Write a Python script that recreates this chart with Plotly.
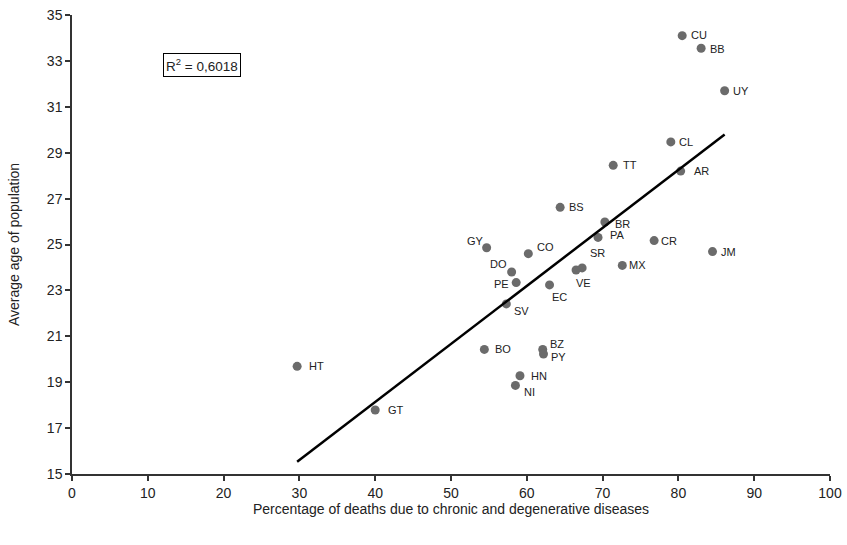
import numpy as np
import plotly.graph_objects as go

countries = ["CU", "BB", "UY", "CL", "TT", "AR", "BS", "BR", "PA", "CR", "JM", "GY", "CO",
             "SR", "VE", "MX", "DO", "PE", "EC", "SV", "BO", "BZ", "PY", "HN", "NI", "HT", "GT"]
pct_chronic = [80.5, 83.0, 86.1, 79.0, 71.4, 80.3, 64.4, 70.3, 69.4, 76.8, 84.5, 54.7, 60.2,
               67.3, 66.5, 72.6, 58.0, 58.6, 63.0, 57.3, 54.4, 62.1, 62.2, 59.1, 58.5, 29.7, 40.0]
avg_age = [34.1, 33.55, 31.7, 29.47, 28.45, 28.2, 26.62, 25.98, 25.31, 25.17, 24.69, 24.86, 24.6,
           23.98, 23.89, 24.09, 23.8, 23.34, 23.24, 22.41, 20.43, 20.43, 20.23, 19.28, 18.86, 19.69, 17.79]
x_ticks = [0, 10, 20, 30, 40, 50, 60, 70, 80, 90, 100]
y_ticks = [15, 17, 19, 21, 23, 25, 27, 29, 31, 33, 35]
r2_label = "R<sup>2</sup> = 0,6018"

# label offsets (pixels) relative to each point
label_shift = {
    "CU": (17, -1), "BB": (16, 1), "UY": (16, 0), "CL": (15, 0), "TT": (17, 0), "AR": (21, 0),
    "BS": (16, 0), "BR": (18, 2), "PA": (19, -2), "CR": (15, 0), "JM": (16, 0), "GY": (-11, -7),
    "CO": (17, -7), "SR": (15, -15), "VE": (7, 13), "MX": (15, 0), "DO": (-13, -8), "PE": (-15, 1),
    "EC": (10, 12), "SV": (15, 7), "BO": (19, 0), "BZ": (14, -5), "PY": (15, 3), "HN": (19, 0),
    "NI": (14, 7), "HT": (19, 0), "GT": (21, 0),
}

xa = np.array(pct_chronic)
ya = np.array(avg_age)
slope, intercept = np.polyfit(xa, ya, 1)
xl = np.array([xa.min(), xa.max()])
yl = slope * xl + intercept

font_family = "Liberation Sans, Arial, sans-serif"

fig = go.Figure()
fig.add_trace(go.Scatter(x=pct_chronic, y=avg_age, mode="markers",
                         marker=dict(size=9, color="#6b6b6b"), hovertext=countries,
                         hoverinfo="text", showlegend=False))
fig.add_trace(go.Scatter(x=xl, y=yl, mode="lines", line=dict(color="black", width=2.5),
                         showlegend=False, hoverinfo="skip"))

for c, x, y in zip(countries, pct_chronic, avg_age):
    dx, dy = label_shift[c]
    fig.add_annotation(x=x, y=y, text=c, showarrow=False, xshift=dx, yshift=-dy,
                       font=dict(size=11, color="#222222", family=font_family))

fig.add_annotation(xref="paper", yref="paper", x=0.12, y=0.892, xanchor="left", yanchor="middle",
                   text=r2_label, showarrow=False, bordercolor="black", borderwidth=1,
                   borderpad=2, bgcolor="white",
                   font=dict(size=13.5, color="#222222", family=font_family))

axis_common = dict(showgrid=False, zeroline=False, showline=True, linecolor="#333333",
                   linewidth=1.5, ticks="outside", ticklen=5, tickcolor="#333333",
                   tickwidth=1.5, automargin=False,
                   tickfont=dict(size=14, color="#222222", family=font_family))

fig.update_xaxes(range=[0, 100], tickvals=x_ticks, ticktext=[str(v) for v in x_ticks],
                 title=dict(text="Percentage of deaths due to chronic and degenerative diseases",
                            font=dict(size=14, color="#222222", family=font_family), standoff=3),
                 **axis_common)
fig.update_yaxes(range=[15, 35], tickvals=y_ticks, ticktext=[str(v) for v in y_ticks],
                 title=dict(text="Average age of population",
                            font=dict(size=14, color="#222222", family=font_family), standoff=24),
                 **axis_common)

fig.update_layout(width=847, height=545, margin=dict(l=72, r=17, t=15, b=71),
                  plot_bgcolor="white", paper_bgcolor="white",
                  font=dict(family=font_family))

fig.write_html("out.html", config={"displayModeBar": False},
               post_script="document.body.style.margin='0';document.body.style.overflow='hidden';")
